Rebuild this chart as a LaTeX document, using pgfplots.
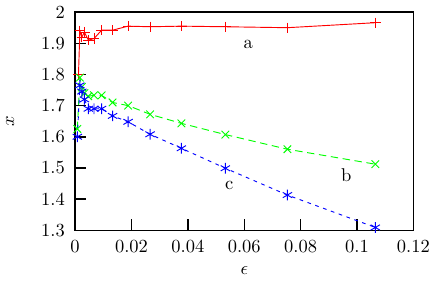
\documentclass[border=0pt]{standalone}
\usepackage{pgfplots}
\pgfplotsset{compat=1.18}
\begin{document}
\begin{tikzpicture}
\begin{axis}[
  width=183pt, height=118pt, scale only axis,
  xmin=0, xmax=0.12, ymin=1.3, ymax=2,
  xtick={0,0.02,0.04,0.06,0.08,0.1,0.12},
  ytick={1.3,1.4,1.5,1.6,1.7,1.8,1.9,2},
  xticklabel style={/pgf/number format/fixed, /pgf/number format/precision=2, yshift=-2pt},
  yticklabel style={/pgf/number format/fixed, /pgf/number format/precision=1, xshift=-2pt},
  scaled x ticks=false, scaled y ticks=false,
  tick pos=left, tick align=inside, major tick length=6pt,
  xlabel={$\epsilon$}, ylabel={$x$},
  xlabel style={at={(axis description cs:0.5,-0.183)}, anchor=center},
  ylabel style={at={(axis description cs:-0.192,0.5)}, anchor=center},
  axis line style={line width=0.8pt},
  every tick/.style={black, line width=0.8pt},
  clip=false,
]
\addplot[red, line width=0.5pt, mark=+, mark size=2.8pt] coordinates {
(0.0012,1.80) (0.0017,1.94) (0.0024,1.92) (0.0033,1.936) (0.0047,1.91)
(0.0067,1.915) (0.0094,1.942) (0.0133,1.942) (0.0188,1.955) (0.0266,1.953)
(0.0377,1.955) (0.0533,1.953) (0.0753,1.95) (0.1065,1.966)};
\addplot[green, line width=0.5pt, dash pattern=on 4pt off 2.5pt, mark=x, mark size=2.9pt, mark options={solid}] coordinates {
(0.0008,1.625) (0.0017,1.79) (0.0024,1.76) (0.0033,1.74) (0.0047,1.73)
(0.0067,1.733) (0.0094,1.733) (0.0133,1.71) (0.0188,1.70) (0.0266,1.672)
(0.0377,1.643) (0.0533,1.607) (0.0753,1.56) (0.1065,1.512)};
\addplot[blue, line width=0.5pt, dash pattern=on 2pt off 2.5pt, mark=asterisk, mark size=2.9pt, mark options={solid}] coordinates {
(0.0008,1.60) (0.0017,1.765) (0.0024,1.745) (0.0033,1.72) (0.0047,1.69)
(0.0067,1.69) (0.0094,1.69) (0.0133,1.667) (0.0188,1.648) (0.0266,1.608)
(0.0377,1.563) (0.0533,1.499) (0.0753,1.413) (0.1065,1.309)};
\node at (axis cs:0.0614,1.897) {a};
\node at (axis cs:0.0962,1.476) {b};
\node at (axis cs:0.0547,1.444) {c};
\end{axis}
\end{tikzpicture}
\end{document}
